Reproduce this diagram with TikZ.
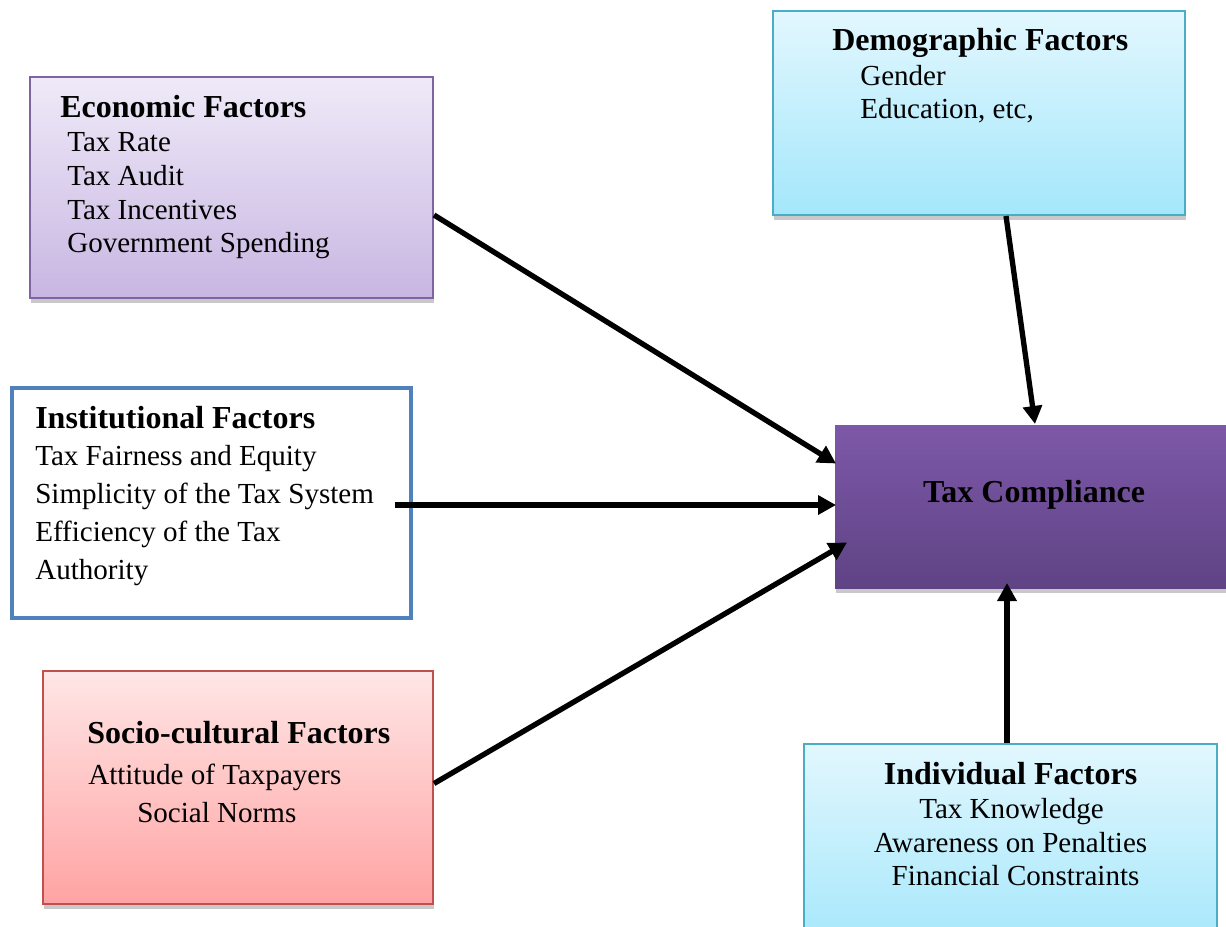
\documentclass[tikz,border=0pt]{standalone}
\usepackage{fontspec}
\setmainfont{Liberation Serif}
\usetikzlibrary{arrows.meta,calc,fit,shadows}

\definecolor{ecoline}{HTML}{8064A2}
\definecolor{ecotop}{HTML}{EFEAF8}
\definecolor{ecobot}{HTML}{C8B6E2}
\definecolor{skyline}{HTML}{4BACC6}
\definecolor{skytop}{HTML}{E2F7FE}
\definecolor{skybot}{HTML}{A4E7FB}
\definecolor{instline}{HTML}{4F81BD}
\definecolor{taxtop}{HTML}{7D58A8}
\definecolor{taxbot}{HTML}{5F4385}
\definecolor{socline}{HTML}{C0504D}
\definecolor{soctop}{HTML}{FFE6E6}
\definecolor{socbot}{HTML}{FFA3A3}

\begin{document}
\begin{tikzpicture}[x=0.75pt, y=-0.75pt,
  bx/.style={draw, line width=1.5pt, inner sep=0pt,
             drop shadow={shadow xshift=0.5pt, shadow yshift=-3.5pt, opacity=0.3, fill=black!70}},
  eco/.style={bx, draw=ecoline, top color=ecotop, bottom color=ecobot},
  sky/.style={bx, draw=skyline, top color=skytop, bottom color=skybot},
  inst/.style={draw=instline, line width=3pt, fill=white, inner sep=0pt},
  res/.style={bx, draw=none, top color=taxtop, bottom color=taxbot},
  soc/.style={bx, draw=socline, top color=soctop, bottom color=socbot},
  hd/.style={font=\fontsize{24}{28}\selectfont\bfseries, inner sep=0pt, anchor=base west},
  it/.style={font=\fontsize{21.8}{26}\selectfont, inner sep=0pt, anchor=base west},
  fl/.style={-{Triangle[length=13.5pt,width=14pt]}, line width=4pt}]
\useasboundingbox (0,0) rectangle (1226,926);

% the boxes
\node[eco, fit={(30,77) (433,298)}] (econ) {};
\node[sky, fit={(773,11) (1185,215)}] (demo) {};
\node[inst, fit={(12,388) (411,618)}] (instf) {};
\node[res, fit={(835,425) (1240,588)}] (tax) {};
\node[soc, fit={(43,671) (433,904)}] (socio) {};
\node[sky, fit={(804,744) (1217,950)}] (indiv) {};

% economic factors
\node[hd] (econ-t) at (60,117) {Economic Factors};
\foreach \t [count=\i] in {Tax Rate, Tax Audit, Tax Incentives, Government Spending}
  \node[it] (econ-\i) at (67,118+33.7*\i) {\t};

% demographic factors
\node[hd] (demo-t) at (832,50) {Demographic Factors};
\node[it] (demo-1) at (860,85) {Gender};
\node[it] (demo-2) at (860,118.5) {Education, etc,};

% institutional factors
\node[hd] (inst-t) at (35,428) {Institutional Factors};
\foreach \t [count=\i] in {Tax Fairness and Equity, Simplicity of the Tax System,
  Efficiency of the Tax, Authority}
  \node[it] (inst-\i) at (35,427+38*\i) {\t};

% tax compliance
\node[hd, anchor=base] (tax-t) at (1034,502) {Tax Compliance};

% socio-cultural factors
\node[hd] (socio-t) at (87,743) {Socio-cultural Factors};
\node[it] (socio-1) at (88,784) {Attitude of Taxpayers};
\node[it] (socio-2) at (137,822.5) {Social Norms};

% individual factors
\node[hd, anchor=base] (indiv-t) at (1010.5,784.5) {Individual Factors};
\node[it, anchor=base] (indiv-1) at (1011.5,818.5) {Tax Knowledge};
\node[it, anchor=base] (indiv-2) at (1010.5,852) {Awareness on Penalties};
\node[it, anchor=base] (indiv-3) at (1015.5,885) {Financial Constraints};

% arrows into tax compliance
\draw[fl] ($(econ.east)+(0,27.5)$) -- ($(tax.west)+(2,-43)$);
\draw[fl] ($(instf.east)+(-18,2)$) -- ($(tax.west)+(2,-1.5)$);
\draw[fl] ($(socio.east)+(0,-4)$) -- ($(tax.west)+(13,36)$);
\draw[fl] ($(demo.south)+(27,0)$) -- ($(tax.north)+(-2.5,0)$);
\draw[fl] ($(indiv.north)+(-3.5,0)$) -- ($(tax.south)+(-30.5,-6)$);
\end{tikzpicture}
\end{document}
